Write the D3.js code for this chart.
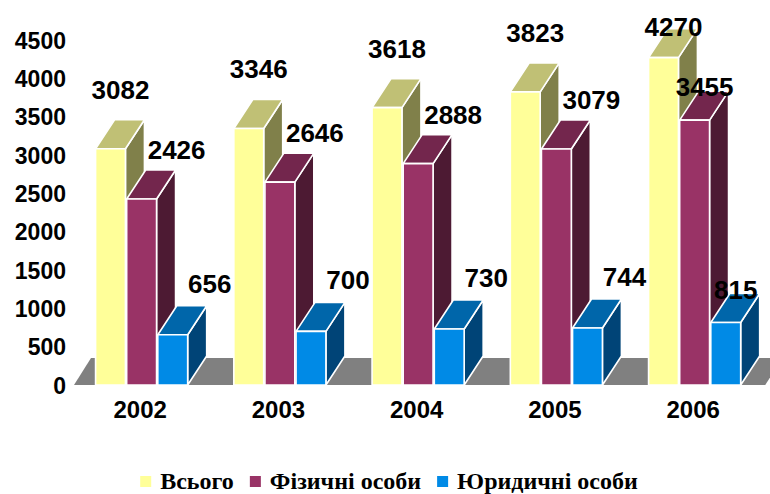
<!DOCTYPE html>
<html>
<head>
<meta charset="utf-8">
<script src="https://cdn.jsdelivr.net/npm/d3@7"></script>
<style>
  html, body { margin: 0; padding: 0; background: #ffffff; }
  svg { display: block; }
  .legend-text { font-family: "Liberation Serif", "DejaVu Serif", "Times New Roman", serif; font-weight: bold; }
</style>
</head>
<body>
<svg id="chart" width="770" height="494"></svg>
<script>
// ---- data ----
const years = ["2002", "2003", "2004", "2005", "2006"];
const totalValues = [3082, 3346, 3618, 3823, 4270];
const individualValues = [2426, 2646, 2888, 3079, 3455];
const legalValues = [656, 700, 730, 744, 815];
const seriesNames = ["Всього", "Фізичні особи", "Юридичні особи"];
const yTickValues = [0, 500, 1000, 1500, 2000, 2500, 3000, 3500, 4000, 4500];

// ---- styling ----
const palettes = [
  { front: "#FFFF99", top: "#C0C075", side: "#80804A" },
  { front: "#993366", top: "#73264D", side: "#4D1A33" },
  { front: "#008AE6", top: "#0066AA", side: "#004477" }
];
const series = [totalValues, individualValues, legalValues];

const svg = d3.select("#chart");

const y = d3.scaleLinear().domain([0, 4500]).range([385, 40]);
const x0 = d3.scaleBand().domain(years).range([72.5, 763.75]).paddingInner(0).paddingOuter(0);
const clusterW = 92.1;
const x1 = d3.scaleBand().domain(d3.range(3)).range([0, clusterW]).paddingInner(0.04).paddingOuter(0);
const clusterOffset = (x0.bandwidth() - clusterW) / 2;

const depthX = 19, depthY = -29;
const floorDX = 17, floorDY = -27;

// floor
const fl = x0.range()[0] + 1.5, fr = x0.range()[1] + 1.5, fy = y(0);
svg.append("path")
  .attr("d", `M${fl},${fy}L${fr},${fy}L${fr + floorDX},${fy + floorDY}L${fl + floorDX},${fy + floorDY}Z`)
  .attr("fill", "#808080");

// bars
const bars = [];
years.forEach((yr, gi) => {
  series.forEach((vals, si) => {
    bars.push({ year: yr, si, value: vals[gi] });
  });
});

const barG = svg.append("g");
bars.forEach(b => {
  const bx = x0(b.year) + clusterOffset + x1(b.si);
  const bw = x1.bandwidth();
  const yt = y(b.value), yb = y(0);
  const pal = palettes[b.si];
  const g = barG.append("g")
    .attr("stroke", "#ffffff").attr("stroke-width", 1.6).attr("stroke-linejoin", "round");
  g.append("path")
    .attr("d", `M${bx + bw},${yt}L${bx + bw + depthX},${yt + depthY}L${bx + bw + depthX},${yb + depthY}L${bx + bw},${yb}Z`)
    .attr("fill", pal.side);
  g.append("path")
    .attr("d", `M${bx},${yt}L${bx + bw},${yt}L${bx + bw + depthX},${yt + depthY}L${bx + depthX},${yt + depthY}Z`)
    .attr("fill", pal.top);
  g.append("rect")
    .attr("x", bx).attr("y", yt).attr("width", bw).attr("height", yb - yt)
    .attr("fill", pal.front);
  b.frontCenter = bx + bw / 2;
  b.backTop = yt + depthY;
});

const ctx = document.createElement("canvas").getContext("2d");

// value labels
const sansFamily = "'Liberation Sans', Arial, sans-serif";
ctx.font = "bold 26px " + sansFamily;
const labelOffsets = [{ dx: 10, dy: -21 }, { dx: 35, dy: -11 }, { dx: 37, dy: -13 }];
const fallback = { dx: 10, dy: 5 };
bars.forEach(b => {
  const txt = String(b.value);
  const tw = ctx.measureText(txt).width;
  const off = labelOffsets[b.si];
  let cx = b.frontCenter + off.dx;
  let by = b.backTop + off.dy;
  if (cx + tw / 2 > 755) {
    cx = b.frontCenter + fallback.dx;
    by = b.backTop + fallback.dy;
  }
  if (by < 36) by = 36;
  svg.append("text")
    .attr("x", cx).attr("y", by)
    .attr("text-anchor", "middle")
    .attr("font-family", sansFamily).attr("font-weight", "bold").attr("font-size", 26)
    .attr("fill", "#000")
    .text(txt);
});

// y axis labels
const yAxis = d3.axisLeft(y).tickValues(yTickValues).tickSize(0).tickPadding(0).tickFormat(d3.format("d"));
const yg = svg.append("g").attr("transform", "translate(66,0)").call(yAxis);
yg.select(".domain").remove();
yg.attr("font-family", null).attr("font-size", null);
yg.selectAll("text")
  .attr("font-family", sansFamily).attr("font-weight", "bold").attr("font-size", 23)
  .attr("fill", "#000").attr("dy", "0.36em").attr("x", 0);

// x axis labels
const xAxis = d3.axisBottom(x0).tickSize(0).tickPadding(0);
const xg = svg.append("g").call(xAxis);
xg.select(".domain").remove();
xg.attr("font-family", null).attr("font-size", null);
xg.selectAll("text")
  .attr("font-family", sansFamily).attr("font-weight", "bold").attr("font-size", 24)
  .attr("fill", "#000")
  .attr("y", 418).attr("dy", 0)
  .attr("x", -1.5);

// legend
const serifFamily = '"Liberation Serif", "DejaVu Serif", "Times New Roman", serif';
const legSize = 24;
ctx.font = "bold " + legSize + "px " + serifFamily;
const legend = svg.append("g");
const sq = 11, gapSqText = 9, itemGap = 16;
const widths = seriesNames.map(n => ctx.measureText(n).width);
let total = 0;
widths.forEach((w, i) => { total += sq + gapSqText + w + (i < widths.length - 1 ? itemGap : 0); });
let lx = 389 - total / 2;
seriesNames.forEach((n, i) => {
  legend.append("rect").attr("x", lx).attr("y", 476).attr("width", sq).attr("height", sq)
    .attr("fill", palettes[i].front);
  legend.append("text").attr("class", "legend-text")
    .attr("x", lx + sq + gapSqText).attr("y", 489)
    .attr("font-size", legSize)
    .attr("fill", "#000").text(n);
  lx += sq + gapSqText + widths[i] + itemGap;
});
</script>
</body>
</html>
